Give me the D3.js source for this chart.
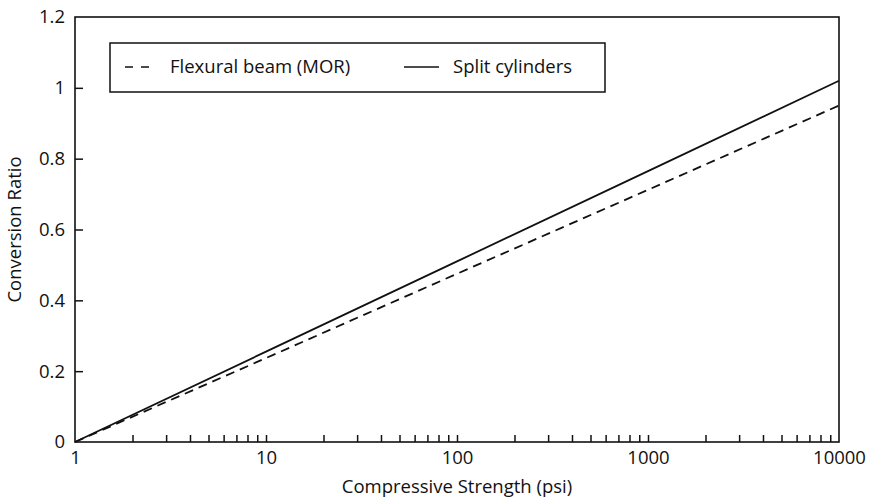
<!DOCTYPE html>
<html><head><meta charset="utf-8">
<script src="https://cdn.jsdelivr.net/npm/d3@7"></script>
<style>
body{margin:0;background:#fff;}
text{font-family:"Open Sans",Lato,sans-serif;fill:#111;}
</style></head>
<body>
<svg id="c" width="870" height="502"></svg>
<script>
const strength = [1, 10, 100, 1000, 10000];
const flexuralBeam = [0, 0.237, 0.475, 0.712, 0.95];
const splitCylinders = [0, 0.255, 0.51, 0.765, 1.02];
const xTickLabels = [1, 10, 100, 1000, 10000];
const yTickLabels = [0, 0.2, 0.4, 0.6, 0.8, 1, 1.2];
const seriesNames = ["Flexural beam (MOR)", "Split cylinders"];

const svg = d3.select("#c");
const m = {l:75, r:839, t:17, b:442};
const fs = "18.5px";
const x = d3.scaleLog().domain([1, 10000]).range([m.l, m.r]);
const y = d3.scaleLinear().domain([0, 1.2]).range([m.b, m.t]);

const minor = [];
for (let d = 1; d < 10000; d *= 10) for (let k = 1; k <= 9; k++) minor.push(d * k);
minor.push(10000);

const gx = svg.append("g").attr("transform", `translate(0,${m.b})`);
gx.call(d3.axisBottom(x).tickValues(minor).tickSize(-7).tickPadding(7)
  .tickFormat(d => xTickLabels.includes(d) ? String(d) : ""));
gx.select(".domain").remove();
gx.selectAll(".tick line").attr("stroke", "#111").attr("stroke-width", 1.5);
gx.selectAll(".tick text").style("font-size", fs).attr("dy", "0.8em");
gx.selectAll(".tick").filter(d => d === 1 || d === 10000).select("line").remove();

const gy = svg.append("g").attr("transform", `translate(${m.l},0)`);
gy.call(d3.axisLeft(y).tickValues(yTickLabels).tickSize(-8).tickPadding(10)
  .tickFormat(d => String(d)));
gy.select(".domain").remove();
gy.selectAll(".tick line").attr("stroke", "#111").attr("stroke-width", 1.5);
gy.selectAll(".tick text").style("font-size", fs);
gy.selectAll(".tick").filter(d => d === 0 || d === 1.2).select("line").remove();

svg.append("rect").attr("x", m.l).attr("y", m.t).attr("width", m.r - m.l).attr("height", m.b - m.t)
  .attr("fill", "none").attr("stroke", "#111").attr("stroke-width", 1.6);

const line = d3.line().x(d => x(d[0])).y(d => y(d[1]));
svg.append("path").datum(strength.map((s, i) => [s, flexuralBeam[i]]))
  .attr("d", line).attr("fill", "none").attr("stroke", "#111").attr("stroke-width", 1.8)
  .attr("stroke-dasharray", "9,6");
svg.append("path").datum(strength.map((s, i) => [s, splitCylinders[i]]))
  .attr("d", line).attr("fill", "none").attr("stroke", "#111").attr("stroke-width", 1.8);

svg.append("rect").attr("x", 110).attr("y", 43).attr("width", 495).attr("height", 49)
  .attr("fill", "#fff").attr("stroke", "#111").attr("stroke-width", 1.5);
svg.append("line").attr("x1", 125).attr("x2", 155).attr("y1", 67).attr("y2", 67)
  .attr("stroke", "#111").attr("stroke-width", 1.6).attr("stroke-dasharray", "8,8");
svg.append("text").attr("x", 170).attr("y", 73).style("font-size", fs).text(seriesNames[0]);
svg.append("line").attr("x1", 404).attr("x2", 439).attr("y1", 67).attr("y2", 67)
  .attr("stroke", "#111").attr("stroke-width", 1.6);
svg.append("text").attr("x", 453).attr("y", 73).style("font-size", fs).text(seriesNames[1]);

svg.append("text").attr("x", (m.l + m.r) / 2).attr("y", 493).attr("text-anchor", "middle")
  .style("font-size", fs).text("Compressive Strength (psi)");
svg.append("text").attr("transform", `translate(21,${(m.t + m.b) / 2}) rotate(-90)`)
  .attr("text-anchor", "middle").style("font-size", fs).text("Conversion Ratio");
</script>
</body></html>
